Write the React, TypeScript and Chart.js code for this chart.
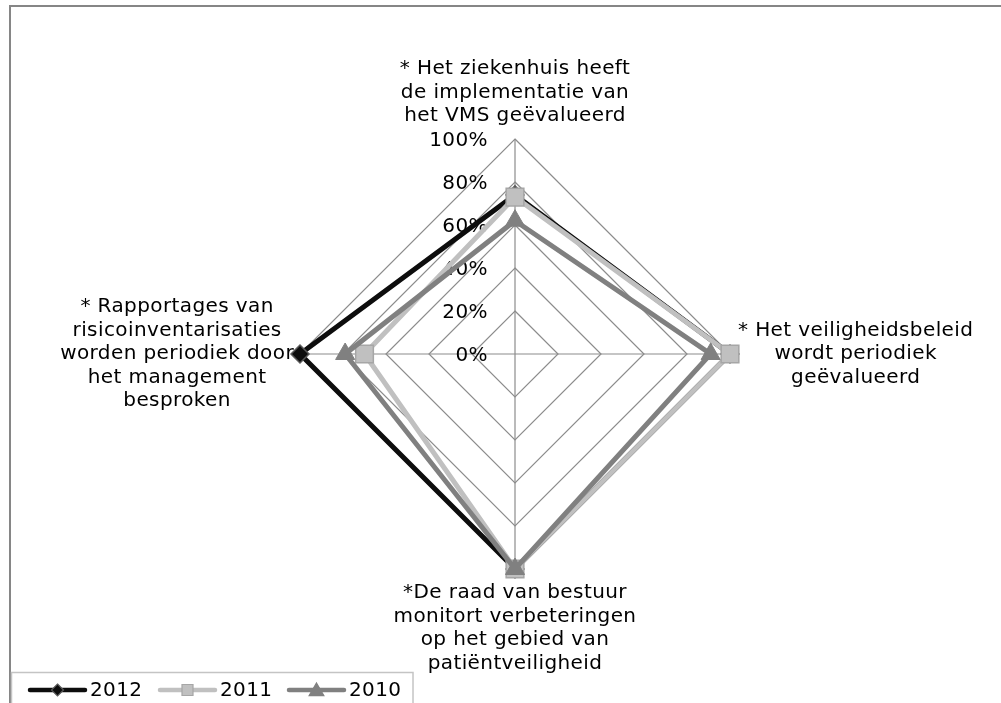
import React, { useEffect, useRef } from "react";
import { Chart, registerables } from "chart.js";

Chart.register(...registerables);

const categories: string[][] = [
  ["* Het ziekenhuis heeft", "de implementatie van", "het VMS geëvalueerd"],
  ["* Het veiligheidsbeleid", "wordt periodiek", "geëvalueerd"],
  ["*De raad van bestuur", "monitort verbeteringen", "op het gebied van", "patiëntveiligheid"],
  ["* Rapportages van", "risicoinventarisaties", "worden periodiek door", "het management", "besproken"],
];
const seriesNames = ["2012", "2011", "2010"];
const values2012 = [74, 100, 100, 100];
const values2011 = [73, 100, 100, 70];
const values2010 = [62, 91, 100, 79];
const tickValues = [0, 20, 40, 60, 80, 100];
const tickLabels = ["0%", "20%", "40%", "60%", "80%", "100%"];

const FONT = "20px 'DejaVu Sans'";
const SPACING = "0.4px";
const GRID = "#8c8c8c";
const C2012 = "#0d0d0d";
const C2011 = "#c0c0c0";
const C2010 = "#808080";

function setFont(ctx: CanvasRenderingContext2D) {
  ctx.font = FONT;
  (ctx as any).letterSpacing = SPACING;
}

function marker(ctx: CanvasRenderingContext2D, kind: string, x: number, y: number, r: number, fill: string, stroke: string) {
  ctx.save();
  ctx.beginPath();
  if (kind === "diamond") {
    ctx.moveTo(x, y - r); ctx.lineTo(x + r, y); ctx.lineTo(x, y + r); ctx.lineTo(x - r, y); ctx.closePath();
  } else if (kind === "square") {
    ctx.rect(x - r, y - r, 2 * r, 2 * r);
  } else {
    ctx.moveTo(x, y - r); ctx.lineTo(x + r * 1.05, y + r * 0.8); ctx.lineTo(x - r * 1.05, y + r * 0.8); ctx.closePath();
  }
  ctx.fillStyle = fill; ctx.fill();
  ctx.lineWidth = 1.2; ctx.strokeStyle = stroke; ctx.stroke();
  ctx.restore();
}

const decorPlugin = {
  id: "decor",
  beforeDatasetsDraw(chart: any) {
    const s = chart.scales.r;
    const ctx = chart.ctx as CanvasRenderingContext2D;
    ctx.save();
    setFont(ctx);
    ctx.fillStyle = "#000";
    ctx.textAlign = "right";
    ctx.textBaseline = "middle";
    tickValues.forEach((v, i) => {
      const d = s.getDistanceFromCenterForValue(v);
      ctx.fillText(tickLabels[i], s.xCenter - 27, s.yCenter - d + 2);
    });
    ctx.restore();
  },
  afterDraw(chart: any) {
    const s = chart.scales.r;
    const ctx = chart.ctx as CanvasRenderingContext2D;
    ctx.save();
    setFont(ctx);
    ctx.fillStyle = "#000";
    ctx.textAlign = "center";
    ctx.textBaseline = "middle";
    const lh = 23.5;
    categories.forEach((lines, i) => {
      const p = s.getPointPosition(i, s.drawingArea);
      const w = Math.max(...lines.map((l) => ctx.measureText(l).width));
      const n = lines.length;
      let cx = p.x;
      let cy0 = p.y;
      if (i === 0) { cx = p.x; cy0 = p.y - 23 - (n - 1) * lh; }
      else if (i === 1) { cx = p.x + 8 + w / 2; cy0 = p.y - ((n - 1) * lh) / 2; }
      else if (i === 2) { cx = p.x; cy0 = p.y + 24; }
      else { cx = p.x - 6 - w / 2; cy0 = p.y - ((n - 1) * lh) / 2; }
      lines.forEach((l, k) => ctx.fillText(l, cx, cy0 + k * lh));
    });

    // outer frame
    ctx.strokeStyle = "#868686";
    ctx.lineWidth = 2;
    ctx.beginPath();
    ctx.moveTo(10, 720); ctx.lineTo(10, 6); ctx.lineTo(1010, 6);
    ctx.stroke();

    // legend
    ctx.fillStyle = "#fff";
    ctx.fillRect(11, 672, 402, 40);
    ctx.strokeStyle = "#c4c4c4";
    ctx.lineWidth = 1.5;
    ctx.strokeRect(11.5, 672.5, 401.5, 50);
    const ly = 690;
    const items = [
      { x1: 30, x2: 85, tx: 90, color: C2012, kind: "diamond", fill: C2012, stroke: "#595959", r: 6 },
      { x1: 160, x2: 215, tx: 220, color: C2011, kind: "square", fill: C2011, stroke: "#a6a6a6", r: 5.5 },
      { x1: 289, x2: 344, tx: 349, color: C2010, kind: "triangle", fill: C2010, stroke: C2010, r: 7 },
    ];
    items.forEach((it, i) => {
      ctx.strokeStyle = it.color;
      ctx.lineWidth = 4.5;
      ctx.lineCap = "round";
      ctx.beginPath();
      ctx.moveTo(it.x1, ly); ctx.lineTo(it.x2, ly); ctx.stroke();
      marker(ctx, it.kind, (it.x1 + it.x2) / 2, ly, it.r, it.fill, it.stroke);
      ctx.fillStyle = "#000";
      ctx.textAlign = "left";
      setFont(ctx);
      ctx.fillText(seriesNames[i], it.tx, ly + 1);
    });
    ctx.restore();
  },
};

export default function App() {
  const ref = useRef<HTMLCanvasElement | null>(null);
  useEffect(() => {
    if (!ref.current) return;
    const chart = new Chart(ref.current, {
      type: "radar",
      data: {
        labels: categories.map((c) => c.join(" ")),
        datasets: [
          {
            label: seriesNames[0], data: values2012, order: 2,
            borderColor: C2012, backgroundColor: "rgba(0,0,0,0)", borderWidth: 5, fill: false,
            pointStyle: "rectRot", pointRadius: 9, pointBackgroundColor: C2012, pointBorderColor: "#595959", pointBorderWidth: 1.5,
          },
          {
            label: seriesNames[1], data: values2011, order: 1,
            borderColor: C2011, backgroundColor: "rgba(0,0,0,0)", borderWidth: 5, fill: false,
            pointStyle: "rect", pointRadius: 12.5, pointBackgroundColor: C2011, pointBorderColor: "#a6a6a6", pointBorderWidth: 1.5,
          },
          {
            label: seriesNames[2], data: values2010, order: 0,
            borderColor: C2010, backgroundColor: "rgba(0,0,0,0)", borderWidth: 5, fill: false,
            pointStyle: "triangle", pointRadius: 11, pointBackgroundColor: C2010, pointBorderColor: C2010, pointBorderWidth: 1,
          },
        ],
      },
      options: {
        responsive: false,
        animation: false,
        layout: { padding: { left: 300, right: 271, top: 139, bottom: 134 } },
        elements: { line: { tension: 0, borderJoinStyle: "miter" } },
        plugins: { legend: { display: false }, tooltip: { enabled: false } },
        scales: {
          r: {
            min: 0,
            max: 100,
            ticks: { stepSize: 20, display: false },
            grid: { color: GRID, lineWidth: 1.2, circular: false },
            angleLines: { color: GRID, lineWidth: 1.2 },
            pointLabels: { display: false },
          },
        },
      },
      plugins: [decorPlugin],
    } as any);
    return () => chart.destroy();
  }, []);
  return (
    <div style={{ position: "fixed", left: 0, top: 0, width: 1001, height: 703, background: "#fff" }}>
      <canvas ref={ref} width={1001} height={703} style={{ display: "block", width: 1001, height: 703 }} />
    </div>
  );
}
